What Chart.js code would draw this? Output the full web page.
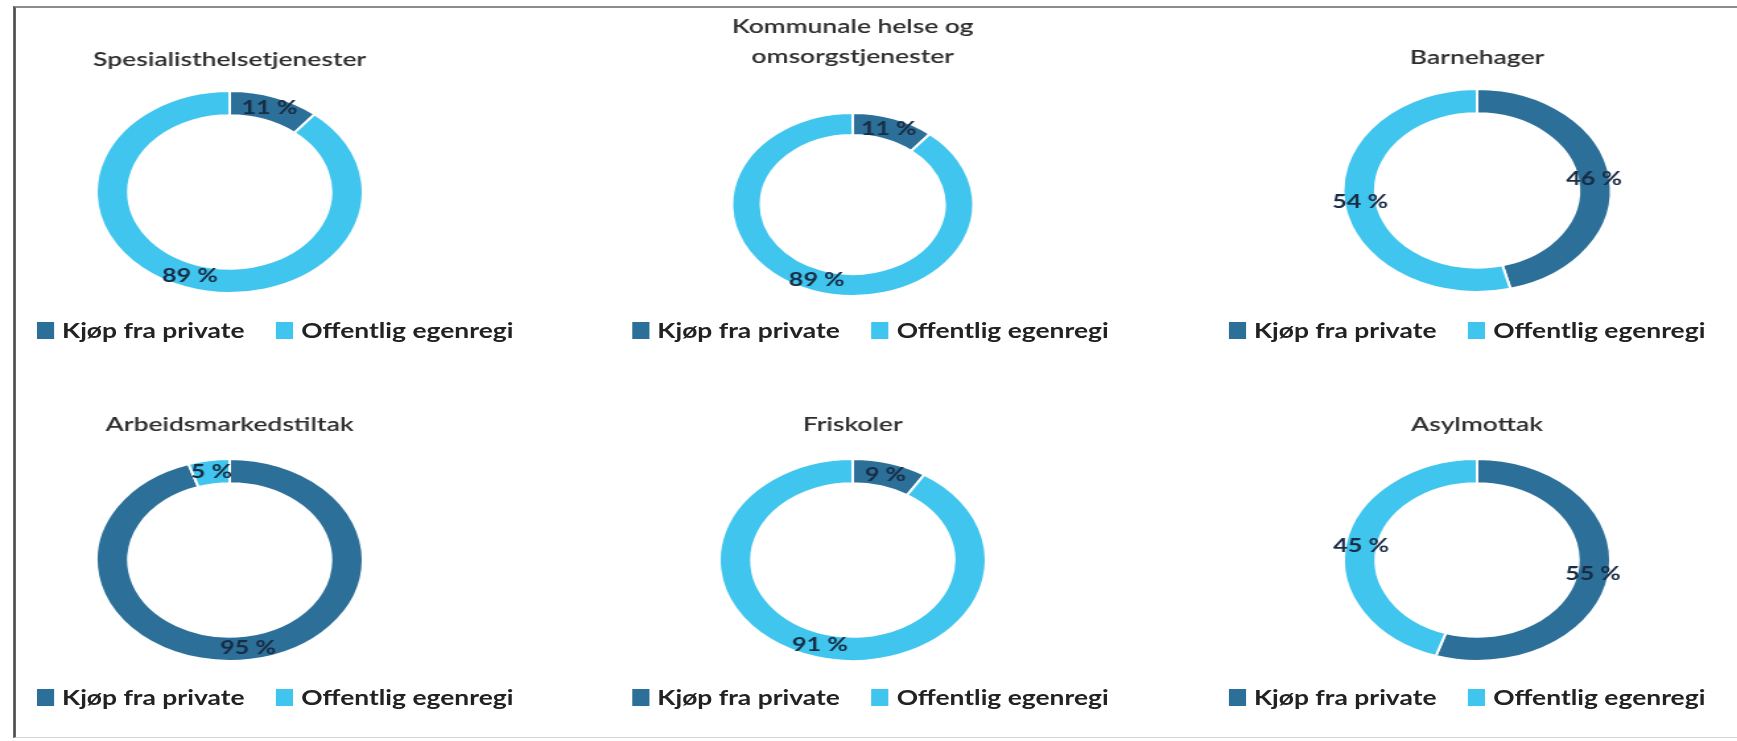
<!DOCTYPE html>
<html>
<head>
<meta charset="utf-8">
<script src="https://cdn.jsdelivr.net/npm/chart.js@4.4.1/dist/chart.umd.min.js"></script>
<style>
  html, body { margin: 0; padding: 0; background: #fff; width: 1737px; height: 741px; overflow: hidden; }
  /* the source picture is stretched sideways, so the whole stage is too */
  #stage { position: absolute; left: 0; top: 0; width: 1316px; height: 741px; transform: scaleX(1.32); transform-origin: 0 0; }
  #frame { position: absolute; left: 10px; top: 6px; width: 1330px; height: 729px;
           border-left: 2px solid #4a4a4a; border-top: 2px solid #8c8c8c; border-bottom: 1px solid #d4d4d4; }
  .panel { position: absolute; }
  .legend { position: absolute; display: flex; align-items: center; white-space: nowrap;
            font: 700 20px Lato, sans-serif; color: #222; transform: translateY(-50%); }
  .legend i { display: inline-block; width: 13px; height: 17px; margin-right: 6px; }
  .legend span { margin-right: 24px; }
</style>
</head>
<body>
<div id="stage"><div id="frame"></div></div>
<script>
const titles = [
  'Spesialisthelsetjenester',
  ['Kommunale helse og', 'omsorgstjenester'],
  'Barnehager',
  'Arbeidsmarkedstiltak',
  'Friskoler',
  'Asylmottak'
];
const seriesNames = ['Kjøp fra private', 'Offentlig egenregi'];
const privateShare = [11, 11, 46, 95, 9, 55];
const publicShare = [89, 89, 54, 5, 91, 45];

const colors = ['#2c6f98', '#40c5ee'];

// panel boxes (unscaled stage coords)
const panels = [
  { x: 14,  y: 35,  w: 320, h: 259, padTop: 13, padBottom: 18, lh: 1.2 },
  { x: 486, y: 2,   w: 320, h: 295, padTop: 10, padBottom: 40, lh: 1.5 },
  { x: 959, y: 33,  w: 320, h: 260, padTop: 13, padBottom: 18, lh: 1.2 },
  { x: 14,  y: 400, w: 320, h: 262, padTop: 13, padBottom: 21, lh: 1.2 },
  { x: 486, y: 400, w: 320, h: 262, padTop: 13, padBottom: 21, lh: 1.2 },
  { x: 959, y: 400, w: 320, h: 262, padTop: 13, padBottom: 21, lh: 1.2 }
];
const legendPos = [
  { x: 28, y: 330 }, { x: 479, y: 330 }, { x: 931, y: 330 },
  { x: 28, y: 697 }, { x: 479, y: 697 }, { x: 931, y: 697 }
];

const pctLabels = {
  id: 'pctLabels',
  afterDatasetsDraw(chart) {
    const ctx = chart.ctx;
    const meta = chart.getDatasetMeta(0);
    const vals = chart.data.datasets[0].data;
    ctx.save();
    ctx.font = '700 19px Lato, sans-serif';
    ctx.fillStyle = '#182c44';
    ctx.textAlign = 'center';
    ctx.textBaseline = 'middle';
    meta.data.forEach((arc, i) => {
      const p = arc.tooltipPosition();
      ctx.fillText(vals[i] + ' %', p.x, p.y);
    });
    ctx.restore();
  }
};

const stage = document.getElementById('stage');

titles.forEach((title, i) => {
  const p = panels[i];
  const box = document.createElement('div');
  box.className = 'panel';
  box.style.left = p.x + 'px';
  box.style.top = p.y + 'px';
  box.style.width = p.w + 'px';
  box.style.height = p.h + 'px';
  const canvas = document.createElement('canvas');
  box.appendChild(canvas);
  stage.appendChild(box);

  new Chart(canvas, {
    type: 'doughnut',
    data: {
      labels: seriesNames,
      datasets: [{
        data: [privateShare[i], publicShare[i]],
        backgroundColor: colors,
        borderColor: '#fff',
        borderWidth: 2
      }]
    },
    options: {
      responsive: true,
      maintainAspectRatio: false,
      animation: false,
      cutout: '76%',
      plugins: {
        legend: { display: false },
        tooltip: { enabled: false },
        title: {
          display: true,
          text: title,
          color: '#2e2e2e',
          font: { family: 'Lato', size: 20, weight: '600', lineHeight: p.lh },
          padding: { top: p.padTop, bottom: p.padBottom }
        }
      }
    },
    plugins: [pctLabels]
  });

  const lg = document.createElement('div');
  lg.className = 'legend';
  lg.style.left = legendPos[i].x + 'px';
  lg.style.top = legendPos[i].y + 'px';
  lg.innerHTML = seriesNames.map((n, k) =>
    `<i style="background:${colors[k]}"></i><span>${n}</span>`).join('');
  stage.appendChild(lg);
});
</script>
</body>
</html>
